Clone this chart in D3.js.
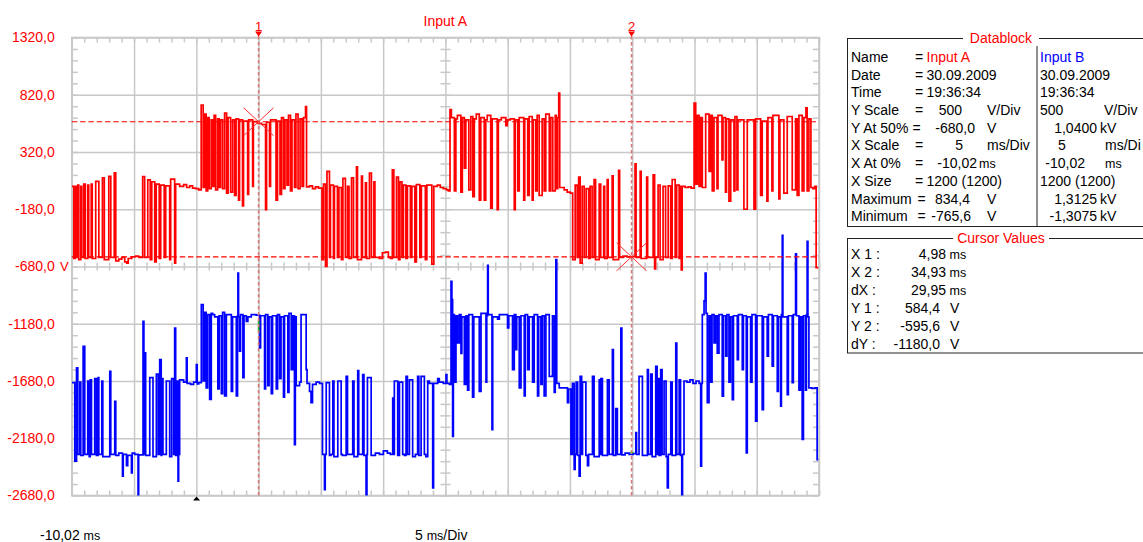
<!DOCTYPE html>
<html>
<head>
<meta charset="utf-8">
<script src="https://cdn.jsdelivr.net/npm/d3@7"></script>
<style>
  body { margin: 0; background: #fff; }
  svg { display: block; }
  text { font-family: "Liberation Sans", Arial, sans-serif; }
</style>
</head>
<body>
<svg id="scope" width="1143" height="542"></svg>
<script>
// ---- channel settings (from the datablock) ----
const voltsPerDiv = 500;
const centerA = -680;   // Y At 50%, input A
const centerB = 1040;   // Y At 50%, input B
const timeStart = -10.02, msPerDiv = 5, xDivs = 12;

// left axis labels (input A volts)
const yTicks = [1320, 820, 320, -180, -680, -1180, -1680, -2180, -2680];

// cursors
const cursorTimes = [4.98, 34.93];
const cursorVolts = [584.4, -595.6];

// input A trace, [ms, V] step points
const traceA = [
  [-10.02,20],[-9.86,-610],[-9.74,20],[-9.66,-600],[-9.54,30],[-9.46,-620],[-9.30,20],[-9.22,-600],[-9.06,40],[-8.94,-610],
  [-8.74,30],[-8.66,-600],[-8.46,40],[-8.38,-610],[-8.10,63],[-7.85,-600],[-7.56,95],[-7.41,-620],[-7.05,107],[-6.89,-600],
  [-6.61,138],[-6.49,-630],[-6.25,-615],[-6.01,-600],[-5.77,-640],[-5.61,-650],[-5.49,-610],[-5.21,-595],[-4.89,-590],[-4.65,-600],
  [-4.33,106],[-4.17,-600],[-3.92,77],[-3.72,-620],[-3.60,60],[-3.36,-640],[-3.24,40],[-3.00,-610],[-2.88,30],[-2.60,-600],
  [-2.48,25],[-2.16,-620],[-2.08,83],[-1.76,-650],[-1.68,40],[-1.36,20],[-1.04,35],[-0.80,10],[-0.56,25],[-0.32,5],[-0.08,0],[0.17,-10],
  [0.37,730],[0.53,10],[0.65,650],[0.77,-20],[0.89,620],[1.01,0],[1.17,600],[1.29,20],[1.41,640],[1.53,-10],[1.69,610],[1.81,10],
  [1.93,600],[2.09,0],[2.25,660],[2.41,-40],[2.53,620],[2.73,-30],[2.89,600],[3.05,-60],[3.17,610],[3.37,-100],[3.45,600],[3.69,-150],
  [3.77,590],[4.10,-50],[4.18,600],[4.50,20],[4.56,585],[4.90,570],[5.22,560],[5.54,-184],[5.62,580],[5.86,20],[5.94,600],[6.38,-100],
  [6.50,590],[6.70,-50],[6.82,620],[6.98,0],[7.10,600],[7.26,30],[7.38,640],[7.54,-20],[7.66,600],[7.86,10],[7.98,650],[8.15,0],
  [8.31,610],[8.47,20],[8.59,620],[8.75,717],[8.83,15],[9.07,25],[9.31,0],[9.55,15],[9.79,5],
  [10.07,-620],[10.19,40],[10.35,-680],[10.47,150],[10.67,-600],[10.75,30],[10.99,-610],[11.07,20],[11.31,-600],[11.43,10],
  [11.63,-620],[11.75,90],[11.95,-600],[12.12,20],[12.24,-610],[12.44,95],[12.60,-600],[12.84,190],[12.92,-620],[13.24,110],
  [13.32,-600],[13.56,50],[13.64,-610],[13.88,135],[14.04,-600],[14.24,60],[14.32,-600],[14.68,-610],[14.92,-560],[15.16,-555],
  [15.40,-600],[15.56,-610],[15.72,165],[15.84,-600],[16.05,100],[16.21,-620],[16.33,60],[16.49,-600],[16.61,30],[16.81,-610],
  [16.93,25],[17.17,-600],[17.29,20],[17.53,-640],[17.65,35],[17.93,-600],[18.05,25],[18.37,-620],[18.49,30],[18.89,-660],
  [19.05,20],[19.33,30],[19.57,10],[19.81,0],[20.06,-10],[20.22,-20],
  [20.35,690],[20.46,620],[20.70,-20],[20.82,610],[20.94,640],[21.22,-30],[21.34,620],[21.50,180],[21.62,600],[21.86,-10],
  [22.02,630],[22.18,-70],[22.30,610],[22.46,650],[22.70,-100],[22.82,620],[23.10,-100],[23.22,600],[23.34,640],[23.62,-170],
  [23.74,610],[24.14,-184],[24.23,600],[24.47,620],[24.83,550],[24.95,600],[25.19,610],[25.51,-184],[25.59,600],[25.79,-20],
  [25.91,620],[26.27,-100],[26.35,610],[26.59,-60],[26.71,630],[26.95,-100],[27.03,600],[27.23,-20],[27.35,640],[27.51,-60],
  [27.75,610],[27.91,-20],[28.04,650],[28.32,-20],[28.44,620],[28.60,-20],[28.80,640],[28.88,0],[29.00,620],[29.08,834],
  [29.16,10],[29.52,-10],[29.76,-30],[30.00,-40],
  [30.20,-620],[30.40,30],[30.56,-600],[30.68,100],[30.80,-650],[30.96,20],[31.12,-600],[31.28,0],[31.48,-610],[31.60,20],
  [31.76,-600],[31.92,80],[32.04,-620],[32.33,40],[32.45,-600],[32.69,20],[32.77,-610],[32.97,80],[33.05,-600],[33.37,112],
  [33.45,-620],[33.89,160],[33.97,-600],[34.25,-590],[34.57,-596],[34.89,-595],[35.21,217],[35.29,-600],[35.62,150],[35.70,-610],
  [36.14,100],[36.22,-600],[36.66,120],[36.78,-700],[36.86,-600],[37.06,30],[37.22,-620],[37.46,20],[37.66,-600],[37.87,25],
  [38.07,-610],[38.19,80],[38.43,-600],[38.55,30],[38.75,-610],[38.87,20],[38.92,-710],[38.99,20],[39.23,10],[39.47,15],[39.71,5],
  [39.95,747],[40.08,40],[40.21,640],[40.35,20],[40.48,620],[40.61,10],[40.88,650],[41.15,150],[41.28,640],[41.41,-20],
  [41.55,620],[41.79,0],[41.87,640],[42.19,250],[42.27,620],[42.47,-30],[42.55,610],[42.75,-110],[42.89,600],[43.15,-20],
  [43.23,630],[43.39,-10],[43.47,600],[43.95,-180],[44.22,600],[44.76,-180],[44.89,610],[45.29,-60],[45.42,590],[45.80,-110],
  [45.88,620],[46.20,-20],[46.28,640],[46.76,-90],[46.84,600],[47.16,-40],[47.43,630],[47.83,-10],[48.10,610],[48.23,-60],
  [48.37,640],[48.63,-20],[48.77,620],[48.93,705],[49.03,-20],[49.17,610],[49.33,10],[49.49,0],[49.65,20],[49.75,-690],[49.93,-690]
];

// input B trace, [ms, V] step points
const traceB = [
  [-10.02,25],[-9.78,-660],[-9.64,154],[-9.54,-600],[-9.38,30],[-9.30,-610],[-9.11,343],[-8.98,-600],[-8.74,40],[-8.62,-620],
  [-8.54,50],[-8.44,-600],[-8.18,60],[-8.04,-610],[-7.91,70],[-7.85,-600],[-7.61,40],[-7.53,-620],[-6.97,125],[-6.89,-600],
  [-6.57,-137],[-6.49,-610],[-6.25,-590],[-5.95,-792],[-5.89,-600],[-5.63,-700],[-5.53,-610],[-5.23,-762],[-5.17,-590],[-4.97,-600],
  [-4.70,-1300],[-4.65,-605],[-4.30,561],[-4.23,-600],[-4.17,285],[-4.09,-610],[-3.76,70],[-3.50,-620],[-3.23,100],[-3.08,-600],
  [-2.96,227],[-2.84,-610],[-2.80,60],[-2.70,-600],[-2.43,40],[-2.16,-620],[-2.00,60],[-1.84,-600],[-1.76,503],[-1.68,-610],
  [-1.60,40],[-1.49,-835],[-1.44,-600],[-1.36,50],[-1.04,30],[-0.82,242],[-0.76,20],[-0.48,10],[-0.24,30],[-0.02,183],[0.05,15],[0.17,25],
  [0.38,707],[0.53,40],[0.65,640],[0.77,-20],[0.89,620],[1.05,-120],[1.18,630],[1.29,620],[1.45,600],[1.71,-30],[1.81,610],
  [1.99,-70],[2.09,640],[2.25,-90],[2.39,620],[2.79,-50],[2.89,600],[3.19,-90],[3.29,610],[3.32,983],[3.37,600],[3.45,300],
  [3.53,620],[3.72,70],[3.81,610],[3.99,560],[4.12,600],[4.39,620],[4.79,615],[5.06,330],[5.14,610],[5.46,-30],[5.54,620],
  [5.72,0],[5.82,600],[6.00,-70],[6.10,610],[6.40,-30],[6.50,620],[6.66,60],[6.78,600],[6.98,-100],[7.06,610],[7.33,-60],
  [7.42,630],[7.60,140],[7.73,610],[7.86,-515],[7.93,600],[8.00,0],[8.27,30],[8.39,620],[8.80,140],[8.87,20],
  [9.07,-50],[9.19,-149],[9.31,10],[9.60,30],[9.87,20],
  [10.11,-600],[10.27,-908],[10.33,-600],[10.41,25],[10.67,-610],[10.79,-600],[10.94,40],[11.03,-620],[11.34,40],[11.61,-600],
  [11.71,-610],[12.01,81],[12.12,-600],[12.54,40],[12.64,-620],[12.94,130],[13.02,-600],[13.34,96],[13.44,-610],[13.61,-1300],
  [13.68,-600],[13.72,70],[14.02,-610],[14.36,-590],[14.68,-600],[15.00,-570],[15.32,-590],[15.56,-600],
  [15.75,-110],[15.80,-600],[15.88,40],[16.15,-610],[16.29,30],[16.55,-600],[16.69,-610],[16.82,81],[16.93,-600],[17.09,50],
  [17.35,-620],[17.57,-600],[17.75,81],[17.85,-610],[18.03,80],[18.29,-600],[18.41,-620],[18.56,40],[18.69,20],[18.96,-893],
  [19.03,20],[19.36,60],[19.49,30],[19.81,20],[20.03,96],[20.10,20],[20.30,10],
  [20.43,910],[20.50,750],[20.56,-443],[20.62,620],[20.70,30],[20.83,610],[20.96,372],[21.10,620],[21.23,280],[21.30,600],
  [21.50,10],[21.63,610],[21.76,-40],[21.86,620],[22.16,-100],[22.26,600],[22.70,-50],[22.84,630],[23.24,30],[23.30,610],
  [23.37,1050],[23.42,620],[23.72,-384],[23.78,600],[24.17,580],[24.31,620],[24.97,503],[25.07,610],[25.37,140],[25.51,620],
  [25.64,314],[25.71,600],[25.91,-20],[26.05,610],[26.31,-90],[26.39,620],[26.58,140],[26.71,600],[26.98,30],[27.11,620],
  [27.38,-90],[27.47,600],[27.65,10],[27.75,610],[27.91,-90],[28.05,620],[28.32,81],[28.58,610],[28.72,-60],[28.80,600],
  [28.85,1100],[28.92,20],[29.12,-20],[29.44,-20],[29.78,-150],[29.88,-30],
  [30.06,-600],[30.18,20],[30.32,-733],[30.40,-600],[30.48,30],[30.60,-610],[30.72,-792],[30.80,81],[30.92,-600],[30.99,30],
  [31.26,-610],[31.39,-700],[31.48,-600],[31.79,81],[31.92,-620],[32.33,50],[32.41,-600],[32.46,60],[32.59,-610],[32.99,50],
  [33.13,-600],[33.39,314],[33.47,-610],[33.66,-200],[33.79,-600],[34.07,503],[34.15,-605],[34.41,-590],[34.73,-600],[35.05,-595],
  [35.27,-411],[35.33,-600],[35.53,81],[35.80,-610],[36.20,140],[36.28,-600],[36.47,100],[36.58,-620],[36.87,169],[36.98,-600],
  [37.06,60],[37.14,-610],[37.27,140],[37.38,-600],[37.54,40],[37.70,-620],[37.80,-893],[37.88,-600],[38.08,30],[38.19,-610],
  [38.48,372],[38.56,-600],[38.75,50],[38.86,-610],[38.96,-1300],[39.02,-600],[39.14,40],
  [39.38,30],[39.62,50],[39.86,20],[40.11,40],[40.35,20],[40.48,-704],[40.55,20],
  [40.61,620],[40.75,740],[40.84,983],[40.91,630],[41.01,-150],[41.15,610],[41.28,30],[41.39,620],[41.55,372],[41.67,610],
  [41.81,284],[41.95,620],[42.21,-93],[42.31,610],[42.49,256],[42.59,620],[42.75,30],[42.87,600],[43.02,-122],[43.11,610],
  [43.42,227],[43.51,620],[43.82,140],[43.91,610],[44.14,-587],[44.22,600],[44.49,30],[44.60,620],[44.89,-311],[45.00,610],
  [45.42,-210],[45.52,600],[45.82,256],[45.92,620],[46.22,169],[46.32,610],[46.63,-50],[46.72,600],[46.90,-180],[46.96,620],
  [47.03,1312],[47.08,600],[47.43,-80],[47.52,610],[47.83,25],[47.92,620],[48.10,1150],[48.17,610],[48.37,-40],[48.49,600],
  [48.63,-471],[48.73,610],[48.90,-40],[48.97,620],[49.03,1259],[49.09,600],[49.17,-20],[49.41,-25],[49.65,-20],[49.83,-646],[49.93,-646]
];

// green sample markers on input B at the cursors
const markB = [[[4.98, 573], [4.98, 459]], [[34.80, -585], [35.10, -585]]];

// datablock (the B column is cut by the window edge, as on screen)
const blockLabels = ["Name", "Date", "Time", "Y Scale", "Y At 50%", "X Scale", "X At 0%", "X Size", "Maximum", "Minimum"];
const valuesA = ["Input A", "30.09.2009", "19:36:34", "500", "-680,0", "5", "-10,02", "1200 (1200)", "834,4", "-765,6"];
const unitsA = ["", "", "", "V/Div", "V", "ms/Div", "ms", "", "V", "V"];
const valuesB = ["Input B", "30.09.2009", "19:36:34", "500", "1,0400", "5", "-10,02", "1200 (1200)", "1,3125", "-1,3075"];
const unitsB = ["", "", "", "V/Div", "kV", "ms/Di", "ms", "", "kV", "kV"];
const cursorLabels = ["X 1 :", "X 2 :", "dX :", "Y 1 :", "Y 2 :", "dY :"];

// ---- layout ----
const plot = { left: 71.8, right: 819, top: 37.5, bottom: 495.5 };
const RED = "#ff0000", BLUE = "#0000ff", GRID = "#c8c8c8";
const comma = (v, d) => v.toFixed(d).replace(".", ",");

const svg = d3.select("#scope");

const x = d3.scaleLinear()
  .domain([timeStart, timeStart + xDivs * msPerDiv])
  .range([plot.left, plot.right]);
const yA = d3.scaleLinear()
  .domain([centerA - 4 * voltsPerDiv, centerA + 4 * voltsPerDiv])
  .range([plot.bottom, plot.top]);
const yB = d3.scaleLinear()
  .domain([centerB - 4 * voltsPerDiv, centerB + 4 * voltsPerDiv])
  .range([plot.bottom, plot.top]);

const xMajor = d3.range(xDivs + 1).map((k) => timeStart + k * msPerDiv);
const xMinor = d3.range(xDivs * 5 + 1).map((k) => timeStart + k);
const yMinor = d3.range(41).map((k) => yTicks[yTicks.length - 1] + k * 100);

function styleAxis(g) {
  g.select(".domain").remove();
  g.selectAll(".tick line").attr("stroke", GRID).attr("stroke-width", 1.5);
  return g;
}

// major grid
const grid = svg.append("g");
grid.append("g")
  .attr("transform", `translate(0,${plot.bottom})`)
  .call(d3.axisBottom(x).tickValues(xMajor).tickSize(-(plot.bottom - plot.top)).tickFormat(""))
  .call(styleAxis);
grid.append("g")
  .attr("transform", `translate(${plot.left},0)`)
  .call(d3.axisLeft(yA).tickValues(yTicks).tickSize(-(plot.right - plot.left)).tickFormat(""))
  .call(styleAxis);

// minor ticks on the border and on the centre cross
const midY = yA(centerA), midX = x(timeStart + 6 * msPerDiv);
const minor = [
  [d3.axisTop(x).tickValues(xMinor).tickSize(-5), `translate(0,${plot.top})`],
  [d3.axisBottom(x).tickValues(xMinor).tickSize(-5), `translate(0,${plot.bottom})`],
  [d3.axisTop(x).tickValues(xMinor).tickSize(4), `translate(0,${midY})`],
  [d3.axisBottom(x).tickValues(xMinor).tickSize(4), `translate(0,${midY})`],
  [d3.axisLeft(yA).tickValues(yMinor).tickSize(-6), `translate(${plot.left},0)`],
  [d3.axisRight(yA).tickValues(yMinor).tickSize(-6), `translate(${plot.right},0)`],
  [d3.axisLeft(yA).tickValues(yMinor).tickSize(5), `translate(${midX},0)`],
  [d3.axisRight(yA).tickValues(yMinor).tickSize(5), `translate(${midX},0)`],
];
minor.forEach(([axis, tr]) => {
  grid.append("g").attr("transform", tr).call(axis.tickFormat("")).call(styleAxis);
});

grid.append("rect")
  .attr("x", plot.left).attr("y", plot.top)
  .attr("width", plot.right - plot.left).attr("height", plot.bottom - plot.top)
  .attr("fill", "none").attr("stroke", GRID).attr("stroke-width", 1.6);

// y labels for input A
const yAxis = svg.append("g")
  .attr("transform", `translate(${plot.left},0)`)
  .call(d3.axisLeft(yA).tickValues(yTicks).tickSize(0).tickPadding(17).tickFormat((v) => comma(v, 1)));
yAxis.select(".domain").remove();
yAxis.selectAll("text")
  .attr("fill", RED)
  .attr("font-size", 14)
  .attr("font-family", '"Liberation Sans", Arial, sans-serif');
svg.append("text")
  .attr("x", 60).attr("y", yA(centerA)).attr("dy", "0.35em")
  .attr("fill", RED).attr("font-size", 13).text("V");

// traces
svg.append("clipPath").attr("id", "screen")
  .append("rect")
  .attr("x", plot.left).attr("y", plot.top)
  .attr("width", plot.right - plot.left).attr("height", plot.bottom - plot.top);

const traces = svg.append("g").attr("clip-path", "url(#screen)");
const lineA = d3.line().x((d) => x(d[0])).y((d) => yA(d[1])).curve(d3.curveStepAfter);
const lineB = d3.line().x((d) => x(d[0])).y((d) => yB(d[1])).curve(d3.curveStepAfter);

traces.append("path").datum(traceB)
  .attr("d", lineB).attr("fill", "none").attr("stroke", BLUE).attr("stroke-width", 1.7);
traces.append("path").datum(traceA)
  .attr("d", lineA).attr("fill", "none").attr("stroke", RED).attr("stroke-width", 1.7);
traces.selectAll(".mark").data(markB).join("path")
  .attr("d", d3.line().x((d) => x(d[0])).y((d) => yB(d[1])))
  .attr("stroke", "#00d000").attr("stroke-width", 1.6).attr("fill", "none");

// cursors
const cursors = svg.append("g");
cursorVolts.forEach((v) => {
  cursors.append("line")
    .attr("x1", plot.left).attr("x2", plot.right)
    .attr("y1", yA(v)).attr("y2", yA(v))
    .attr("stroke", RED).attr("stroke-width", 1.2).attr("stroke-dasharray", "5.5,2.8");
});
cursorTimes.forEach((t, i) => {
  const cx = x(t), cy = yA(cursorVolts[i]);
  cursors.append("line")
    .attr("x1", cx).attr("x2", cx).attr("y1", 36).attr("y2", plot.bottom)
    .attr("stroke", "#d87878").attr("stroke-width", 1.6).attr("stroke-dasharray", "3.5,2.5");
  cursors.append("path")
    .attr("d", `M${cx - 3.5},31.5L${cx + 3.5},31.5L${cx},36.5Z`).attr("fill", RED);
  cursors.append("text")
    .attr("x", cx).attr("y", 26).attr("dy", "0.35em").attr("text-anchor", "middle")
    .attr("fill", RED).attr("font-size", 13).text(i + 1);
  cursors.append("path")
    .attr("d", `M${cx - 15},${cy - 14}L${cx + 15},${cy + 14}M${cx - 15},${cy + 14}L${cx + 15},${cy - 14}`)
    .attr("stroke", "#ff3030").attr("stroke-width", 1);
});

// trigger mark
svg.append("path")
  .attr("d", `M${x(0)},${plot.bottom + 1}L${x(0) + 3.5},${plot.bottom + 5}L${x(0) - 3.5},${plot.bottom + 5}Z`)
  .attr("fill", "#000");

// titles and footer
svg.append("text")
  .attr("x", (plot.left + plot.right) / 2).attr("y", 21.5).attr("dy", "0.35em")
  .attr("text-anchor", "middle").attr("fill", RED).attr("font-size", 14).text("Input A");

const foot = svg.append("g").attr("font-size", 14).attr("fill", "#000");
const f1 = foot.append("text").attr("x", 40).attr("y", 540);
f1.append("tspan").text(comma(timeStart, 2) + " ");
f1.append("tspan").attr("font-size", 12.5).text("ms");
const f2 = foot.append("text").attr("x", 415).attr("y", 540);
f2.append("tspan").text(msPerDiv + " ");
f2.append("tspan").attr("font-size", 12.5).text("ms");
f2.append("tspan").text("/Div");

// ---- side panels ----
const panel = svg.append("g").attr("font-size", 14);

function frame(y0, y1, title, gap) {
  panel.append("rect")
    .attr("x", 847.5).attr("y", y0).attr("width", 320).attr("height", y1 - y0)
    .attr("fill", "none").attr("stroke", "#222").attr("stroke-width", 1);
  panel.append("rect")
    .attr("x", 1001 - gap).attr("y", y0 - 2).attr("width", gap * 2).attr("height", 4).attr("fill", "#fff");
  panel.append("text")
    .attr("x", 1001).attr("y", y0).attr("dy", "0.35em").attr("text-anchor", "middle")
    .attr("fill", RED).text(title);
}

frame(38.5, 226.5, "Datablock", 38);
panel.append("line")
  .attr("x1", 1037).attr("x2", 1037).attr("y1", 46).attr("y2", 226.5)
  .attr("stroke", "#222").attr("stroke-width", 1);

const rowY = (i) => 57 + i * 17.7;
const txt = (xp, y, s, anchor = "start", fill = "#000", size = null) => {
  const t = panel.append("text").attr("x", xp).attr("y", y).attr("dy", "0.35em")
    .attr("text-anchor", anchor).attr("fill", fill).text(s);
  if (size) t.attr("font-size", size);
  return t;
};

// column positions for the value cells, by row
const eqX = [915, 915, 915, 915, 912.5, 915, 915, 915, 917.5, 917.5];
const aEnd = [null, null, null, 962, 975, 963, 977, null, 970, 971];
const aUnitX = [null, null, null, 987, 987, 987, 979, null, 987, 987];
const bPos = [[1040, "start"], [1040, "start"], [1040, "start"], [1040, "start"], [1097, "end"],
  [1058, "start"], [1085, "end"], [1040, "start"], [1097, "end"], [1097, "end"]];
const bUnitX = [null, null, null, 1104, 1100, 1105, 1105, null, 1100, 1100];

blockLabels.forEach((label, i) => {
  const y = rowY(i);
  txt(851, y, label);
  txt(eqX[i], y, "=");
  if (aEnd[i] === null) {
    txt(926.5, y, valuesA[i], "start", i === 0 ? RED : "#000");
  } else {
    txt(aEnd[i], y, valuesA[i], "end");
    txt(aUnitX[i], y, unitsA[i], "start", "#000", unitsA[i] === "ms" ? 12.5 : null);
  }
  txt(bPos[i][0], y, valuesB[i], bPos[i][1], i === 0 ? BLUE : "#000");
  if (unitsB[i]) txt(bUnitX[i], y, unitsB[i], "start", "#000", unitsB[i] === "ms" ? 12.5 : null);
});

frame(238.5, 353, "Cursor Values", 48);
const cursorValues = [
  comma(cursorTimes[0], 2), comma(cursorTimes[1], 2), comma(cursorTimes[1] - cursorTimes[0], 2),
  comma(cursorVolts[0], 1), comma(cursorVolts[1], 1), comma(cursorVolts[1] - cursorVolts[0], 1),
];
cursorLabels.forEach((label, i) => {
  const y = 254.5 + i * 17.9;
  txt(851, y, label);
  if (i < 3) {
    txt(946, y, cursorValues[i], "end");
    txt(949.5, y, "ms", "start", "#000", 12.5);
  } else {
    txt(940, y, cursorValues[i], "end");
    txt(950, y, "V");
  }
});
</script>
</body>
</html>
